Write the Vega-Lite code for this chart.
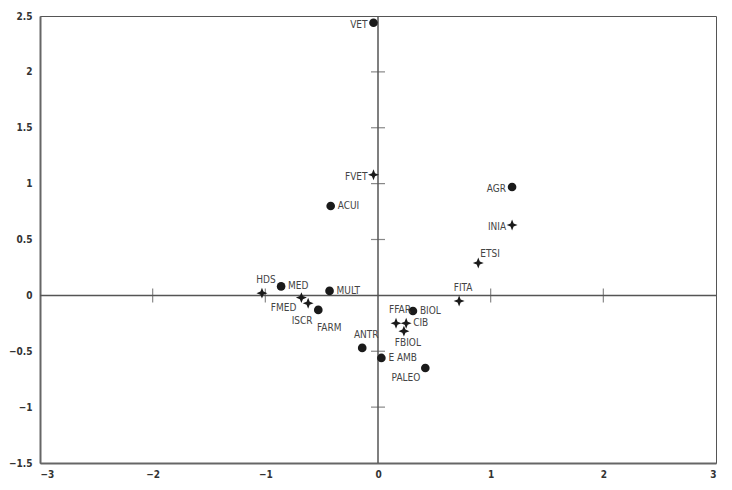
{
  "$schema": "https://vega.github.io/schema/vega-lite/v6.json",
  "width": 676,
  "height": 447,
  "autosize": {"type": "none"},
  "padding": {"left": 40, "top": 16, "right": 16, "bottom": 27},
  "background": "white",
  "config": {
    "view": {"stroke": "#555", "strokeWidth": 1},
    "font": "DejaVu Sans Condensed, Liberation Sans Narrow, sans-serif",
    "axis": {
      "grid": false,
      "ticks": false,
      "title": null,
      "format": "~g",
      "domainColor": "#666",
      "domainWidth": 2,
      "labelColor": "#333",
      "labelFontSize": 10,
      "labelFontWeight": "bold",
      "labelFont": "DejaVu Sans Condensed, Liberation Sans Narrow, sans-serif"
    }
  },
  "datasets": {
    "pts": [
      {"name": "VET", "x": -0.04, "y": 2.44, "type": "circle", "side": "left"},
      {"name": "FVET", "x": -0.04, "y": 1.08, "type": "star", "side": "left"},
      {"name": "ACUI", "x": -0.42, "y": 0.8, "type": "circle", "side": "right"},
      {"name": "AGR", "x": 1.19, "y": 0.97, "type": "circle", "side": "left"},
      {"name": "INIA", "x": 1.19, "y": 0.63, "type": "star", "side": "left"},
      {"name": "ETSI", "x": 0.89, "y": 0.29, "type": "star", "side": "aboveright"},
      {"name": "FITA", "x": 0.72, "y": -0.05, "type": "star", "side": "above"},
      {"name": "HDS", "x": -1.03, "y": 0.02, "type": "star", "side": "above"},
      {"name": "MED", "x": -0.86, "y": 0.08, "type": "circle", "side": "right"},
      {"name": "FMED", "x": -0.68, "y": -0.02, "type": "star", "side": "belowleft"},
      {"name": "ISCR", "x": -0.62, "y": -0.07, "type": "star", "side": "belowcenterleft"},
      {"name": "FARM", "x": -0.53, "y": -0.13, "type": "circle", "side": "belowright"},
      {"name": "MULT", "x": -0.43, "y": 0.04, "type": "circle", "side": "right"},
      {"name": "ANTR", "x": -0.14, "y": -0.47, "type": "circle", "side": "above"},
      {"name": "E AMB", "x": 0.03, "y": -0.56, "type": "circle", "side": "right"},
      {"name": "PALEO", "x": 0.42, "y": -0.65, "type": "circle", "side": "belowleft"},
      {"name": "BIOL", "x": 0.31, "y": -0.14, "type": "circle", "side": "right"},
      {"name": "FFAR", "x": 0.16, "y": -0.25, "type": "star", "side": "above"},
      {"name": "CIB", "x": 0.25, "y": -0.25, "type": "star", "side": "right"},
      {"name": "FBIOL", "x": 0.23, "y": -0.32, "type": "star", "side": "below"}
    ],
    "xticks": [{"x": -2}, {"x": -1}, {"x": 1}, {"x": 2}],
    "yticks": [{"y": 2}, {"y": 1.5}, {"y": 1}, {"y": 0.5}, {"y": -0.5}, {"y": -1}]
  },
  "layer": [
    {
      "data": {"values": [{"v": 0}]},
      "mark": {"type": "rule", "color": "#555", "strokeWidth": 1.5},
      "encoding": {"y": {"field": "v", "type": "quantitative", "scale": {"domain": [-1.5, 2.5]}, "axis": {"values": [-1.5, -1, -0.5, 0, 0.5, 1, 1.5, 2, 2.5], "labelPadding": 8}}}
    },
    {
      "data": {"values": [{"v": 0}]},
      "mark": {"type": "rule", "color": "#555", "strokeWidth": 1.5},
      "encoding": {"x": {"field": "v", "type": "quantitative", "scale": {"domain": [-3, 3]}, "axis": {"values": [-3, -2, -1, 0, 1, 2, 3], "labelPadding": 6}}}
    },
    {
      "data": {"name": "xticks"},
      "mark": {"type": "tick", "orient": "vertical", "color": "#555", "size": 14, "thickness": 1.2},
      "encoding": {"x": {"field": "x", "type": "quantitative"}, "y": {"datum": 0, "type": "quantitative"}}
    },
    {
      "data": {"name": "yticks"},
      "mark": {"type": "tick", "orient": "horizontal", "color": "#555", "size": 14, "thickness": 1.2},
      "encoding": {"y": {"field": "y", "type": "quantitative"}, "x": {"datum": 0, "type": "quantitative"}}
    },
    {
      "data": {"name": "pts"},
      "transform": [{"filter": "datum.type == 'circle'"}],
      "mark": {"type": "point", "shape": "circle", "filled": true, "color": "#1a1a1a", "size": 75, "opacity": 1},
      "encoding": {"x": {"field": "x", "type": "quantitative"}, "y": {"field": "y", "type": "quantitative"}}
    },
    {
      "data": {"name": "pts"},
      "transform": [{"filter": "datum.type == 'star'"}],
      "mark": {"type": "point", "shape": "M0,-1L0.28,-0.28L1,0L0.28,0.28L0,1L-0.28,0.28L-1,0L-0.28,-0.28Z", "filled": true, "color": "#1a1a1a", "size": 120, "opacity": 1},
      "encoding": {"x": {"field": "x", "type": "quantitative"}, "y": {"field": "y", "type": "quantitative"}}
    },
    {
      "data": {"name": "pts"},
      "transform": [{"filter": "datum.side == 'right'"}],
      "mark": {"type": "text", "align": "left", "baseline": "middle", "dx": 7, "fontSize": 10, "color": "#444"},
      "encoding": {"x": {"field": "x", "type": "quantitative"}, "y": {"field": "y", "type": "quantitative"}, "text": {"field": "name"}}
    },
    {
      "data": {"name": "pts"},
      "transform": [{"filter": "datum.side == 'left'"}],
      "mark": {"type": "text", "align": "right", "baseline": "middle", "dx": -6, "dy": 2, "fontSize": 10, "color": "#444"},
      "encoding": {"x": {"field": "x", "type": "quantitative"}, "y": {"field": "y", "type": "quantitative"}, "text": {"field": "name"}}
    },
    {
      "data": {"name": "pts"},
      "transform": [{"filter": "datum.side == 'above'"}],
      "mark": {"type": "text", "align": "center", "baseline": "bottom", "dx": 4, "dy": -8, "fontSize": 10, "color": "#444"},
      "encoding": {"x": {"field": "x", "type": "quantitative"}, "y": {"field": "y", "type": "quantitative"}, "text": {"field": "name"}}
    },
    {
      "data": {"name": "pts"},
      "transform": [{"filter": "datum.side == 'aboveright'"}],
      "mark": {"type": "text", "align": "left", "baseline": "bottom", "dx": 2, "dy": -4, "fontSize": 10, "color": "#444"},
      "encoding": {"x": {"field": "x", "type": "quantitative"}, "y": {"field": "y", "type": "quantitative"}, "text": {"field": "name"}}
    },
    {
      "data": {"name": "pts"},
      "transform": [{"filter": "datum.side == 'below'"}],
      "mark": {"type": "text", "align": "center", "baseline": "top", "dx": 4, "dy": 7, "fontSize": 10, "color": "#444"},
      "encoding": {"x": {"field": "x", "type": "quantitative"}, "y": {"field": "y", "type": "quantitative"}, "text": {"field": "name"}}
    },
    {
      "data": {"name": "pts"},
      "transform": [{"filter": "datum.side == 'belowcenterleft'"}],
      "mark": {"type": "text", "align": "center", "baseline": "top", "dx": -6, "dy": 13, "fontSize": 10, "color": "#444"},
      "encoding": {"x": {"field": "x", "type": "quantitative"}, "y": {"field": "y", "type": "quantitative"}, "text": {"field": "name"}}
    },
    {
      "data": {"name": "pts"},
      "transform": [{"filter": "datum.side == 'belowleft'"}],
      "mark": {"type": "text", "align": "right", "baseline": "top", "dx": -5, "dy": 5, "fontSize": 10, "color": "#444"},
      "encoding": {"x": {"field": "x", "type": "quantitative"}, "y": {"field": "y", "type": "quantitative"}, "text": {"field": "name"}}
    },
    {
      "data": {"name": "pts"},
      "transform": [{"filter": "datum.side == 'belowright'"}],
      "mark": {"type": "text", "align": "center", "baseline": "top", "dx": 11, "dy": 13, "fontSize": 10, "color": "#444"},
      "encoding": {"x": {"field": "x", "type": "quantitative"}, "y": {"field": "y", "type": "quantitative"}, "text": {"field": "name"}}
    }
  ]
}
